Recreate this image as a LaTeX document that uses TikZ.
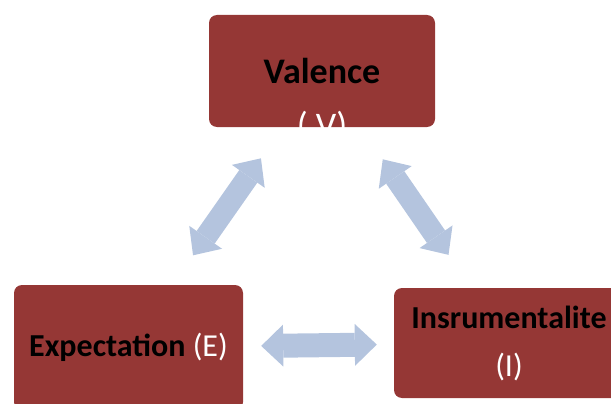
\documentclass[tikz,border=0pt]{standalone}
\usepackage{fontspec}
\setmainfont{Carlito}
\usetikzlibrary{arrows.meta,positioning}
\definecolor{boxred}{HTML}{953735}
\definecolor{arrowblue}{HTML}{B4C4DE}

\begin{document}
\begin{tikzpicture}[x=1pt, y=-1pt]
\tikzset{redbox/.style={fill=boxred, rounded corners=8pt, inner sep=0pt, align=center,
  minimum width=226pt, minimum height=112pt, font=\fontsize{32}{48}\selectfont},
bothway/.style={arrowblue, line width=22pt,
  {Triangle[length=22pt,width=40pt,line width=0pt]}-{Triangle[length=22pt,width=40pt,line width=0pt]}}}

\useasboundingbox (0,0) rectangle (611,404);
\clip (0,0) rectangle (611,404);

%% Boxes
\node (valence) [redbox] at (322,71) {};
\begin{scope}
\clip[rounded corners=8pt] (valence.south west) rectangle (valence.north east);
\node (valtext) [align=center, font=\fontsize{36}{54}\selectfont] at (322,100)
  {\textbf{Valence}\\\textcolor{white}{( V)}};
\end{scope}

\node (expect) [redbox, minimum width=229pt, minimum height=125pt] at (128.5,347.5)
  {\textbf{Expectation} \textcolor{white}{(E)}};
\node (instr) [redbox, minimum width=230pt, minimum height=110pt] at (509,343)
  {\textbf{Insrumentalite}\\\textcolor{white}{(I)}};

%% Arrows
\draw[bothway, shorten <=38pt, shorten >=36pt] (valence) -- (expect);
\draw[bothway, shorten <=39pt, shorten >=40pt] (valence) -- (instr);
\draw[bothway, line width=24pt, shorten <=18pt, shorten >=17pt,
  {Triangle[length=22pt,width=42pt,line width=0pt]}-{Triangle[length=22pt,width=42pt,line width=0pt]}]
  (expect) -- (instr);

\end{tikzpicture}
\end{document}
